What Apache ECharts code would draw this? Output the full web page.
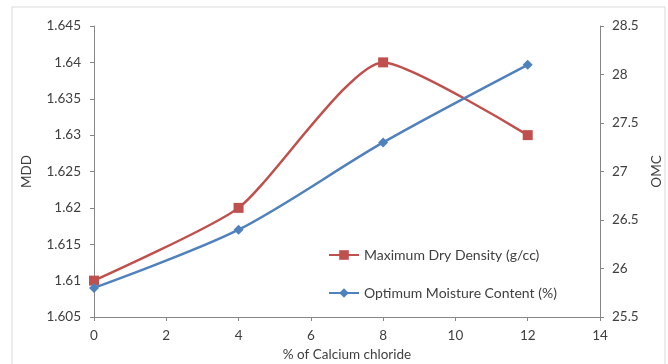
<!DOCTYPE html>
<html><head><meta charset="utf-8">
<script src="https://cdn.jsdelivr.net/npm/echarts@6/dist/echarts.min.js"></script>
<style>html,body{margin:0;padding:0;background:#fff}#c{width:668px;height:364px}</style>
</head><body><div id="c"></div>
<script>
const xValues = [0, 4, 8, 12];
const mddValues = [1.61, 1.62, 1.64, 1.63];
const omcValues = [25.8, 26.4, 27.3, 28.1];
const seriesNames = ['Maximum Dry Density (g/cc)', 'Optimum Moisture Content (%)'];
const xName = '% of Calcium chloride';
const leftName = 'MDD';
const rightName = 'OMC';

const font = 'Lato, "Open Sans", sans-serif';
const fs = 13.5;
const txt = '#404040';
const axisCol = '#868686';
const chart = echarts.init(document.getElementById('c'), null, {renderer: 'canvas'});
chart.setOption({
  animation: false,
  backgroundColor: '#fff',
  textStyle: {fontFamily: font},
  graphic: [{type: 'rect', shape: {x: 12, y: 7, width: 653, height: 370},
    style: {fill: 'none', stroke: '#d9d9d9', lineWidth: 1}, silent: true, z: -1}],
  grid: {left: 94, right: 68, top: 26, bottom: 47, outerBoundsMode: 'none', containLabel: false},
  legend: {
    orient: 'vertical', left: 323, top: 243, itemGap: 24, itemWidth: 30, itemHeight: 12,
    textStyle: {fontFamily: font, fontSize: 14, color: txt},
    data: [seriesNames[0], seriesNames[1]]
  },
  xAxis: {
    type: 'value', min: 0, max: 14, interval: 2,
    name: xName, nameLocation: 'middle', nameGap: 31,
    nameTextStyle: {fontFamily: font, fontSize: fs, color: txt},
    axisLine: {show: true, lineStyle: {color: axisCol}},
    axisTick: {show: true, length: 4, lineStyle: {color: axisCol}},
    axisLabel: {fontFamily: font, fontSize: fs, color: txt, margin: 12},
    splitLine: {show: false}
  },
  yAxis: [{
    type: 'value', min: 1.605, max: 1.645, interval: 0.005, position: 'left',
    name: leftName, nameLocation: 'middle', nameGap: 60, nameRotate: 90,
    nameTextStyle: {fontFamily: font, fontSize: fs, color: txt},
    axisLine: {show: true, lineStyle: {color: axisCol}},
    axisTick: {show: true, length: 4, lineStyle: {color: axisCol}},
    axisLabel: {fontFamily: font, fontSize: fs, color: txt, margin: 13,
      formatter: v => String(parseFloat(v.toFixed(3)))},
    splitLine: {show: false}
  }, {
    type: 'value', min: 25.5, max: 28.5, interval: 0.5, position: 'right',
    name: rightName, nameLocation: 'middle', nameGap: 46, nameRotate: 90,
    nameTextStyle: {fontFamily: font, fontSize: fs, color: txt},
    axisLine: {show: true, lineStyle: {color: axisCol}},
    axisTick: {show: true, length: 4, lineStyle: {color: axisCol}},
    axisLabel: {fontFamily: font, fontSize: fs, color: txt, margin: 12,
      formatter: v => String(parseFloat(v.toFixed(1)))},
    splitLine: {show: false}
  }],
  series: [{
    name: seriesNames[0], type: 'line', yAxisIndex: 0, smooth: 0.2,
    data: xValues.map((x, i) => [x, mddValues[i]]),
    symbol: 'rect', symbolSize: 10,
    lineStyle: {color: '#c0504d', width: 2.5},
    itemStyle: {color: '#c0504d'}, z: 2
  }, {
    name: seriesNames[1], type: 'line', yAxisIndex: 1, smooth: 0.3,
    data: xValues.map((x, i) => [x, omcValues[i]]),
    symbol: 'diamond', symbolSize: 10,
    lineStyle: {color: '#4f81bd', width: 2.5},
    itemStyle: {color: '#4f81bd'}, z: 3
  }]
});
</script></body></html>
